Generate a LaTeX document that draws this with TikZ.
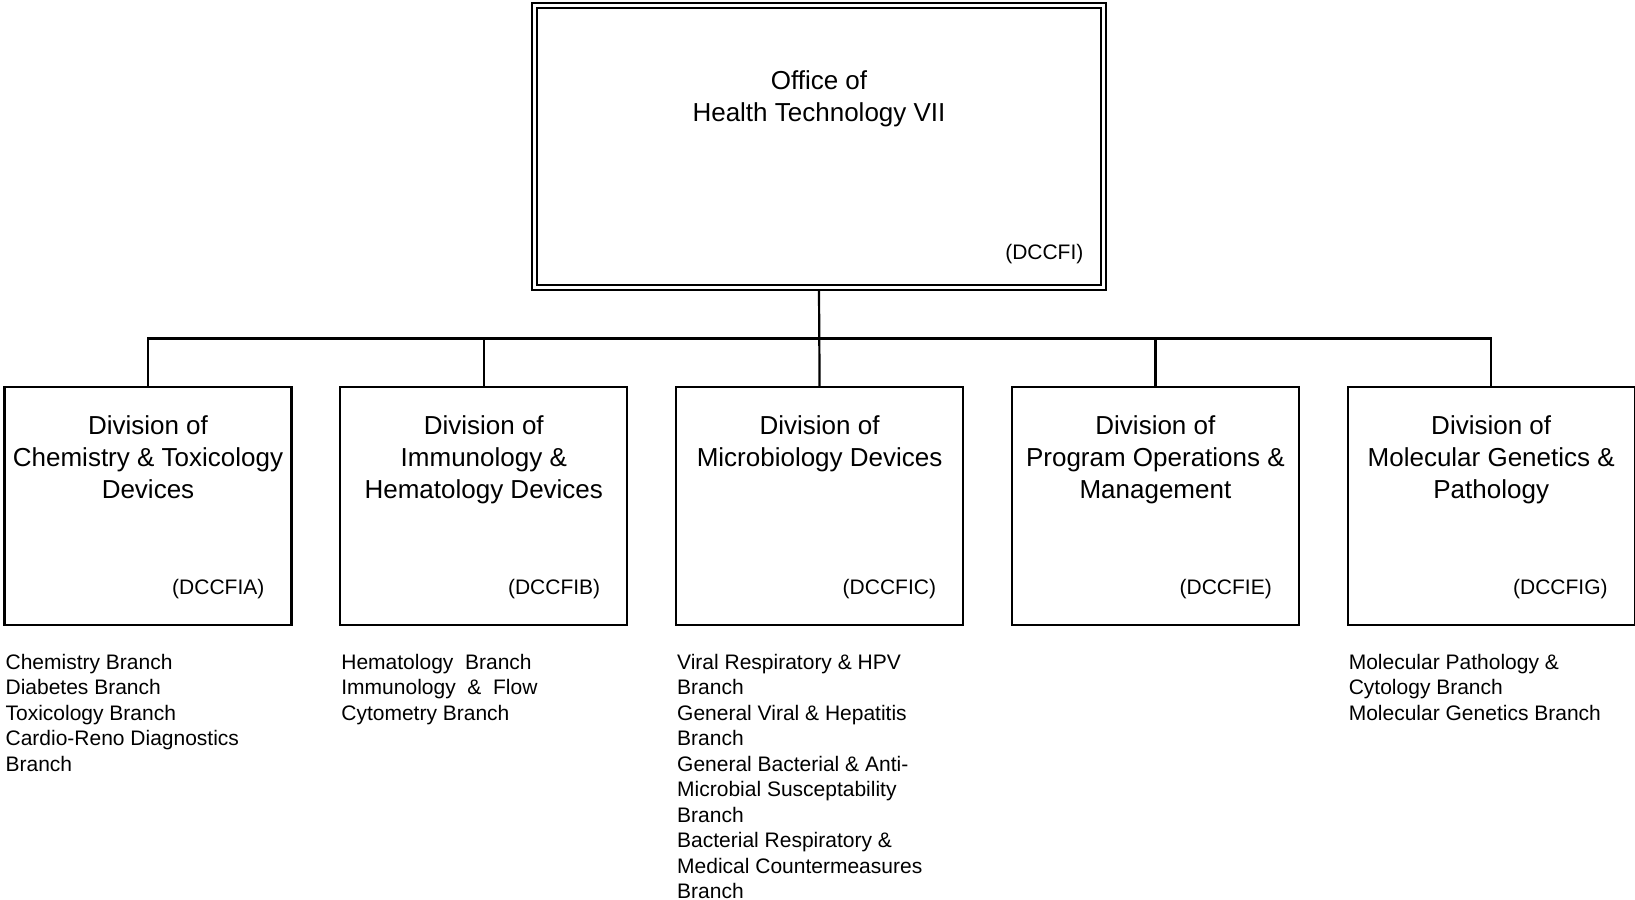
\documentclass[tikz,border=0pt]{standalone}
\usepackage{fontspec}
\setmainfont{Liberation Sans}
\usetikzlibrary{positioning}

\begin{document}
\begin{tikzpicture}[x=0.5pt, y=-0.5pt, line width=1.1pt, node distance=24.4pt,
    office/.style = {draw, double, double distance=1.5pt, line width=1pt, outer sep=1.75pt,
                     minimum width=284.5pt, minimum height=141pt, inner sep=0pt},
    division/.style = {draw, outer sep=0pt, minimum width=143.5pt, minimum height=119pt, inner sep=0pt},
    title/.style = {anchor=north, align=center, inner sep=0pt, font=\fontsize{13}{16}\selectfont},
    code/.style = {anchor=south east, inner sep=0pt, font=\fontsize{10.5}{12.75}\selectfont},
    branches/.style = {align=left, inner sep=0pt, font=\fontsize{10.5}{12.75}\selectfont}]
    \useasboundingbox (0,0) rectangle (1635,900);

    % office
    \node[office, label={[title, yshift=-34pt]north:{Office of\\Health Technology VII}},
        label={[code, xshift=-11.25pt, yshift=13.25pt]south east:(DCCFI)}] (ohtvii) at (819,146.5) {};

    % divisions
    \node[division, label={[title, yshift=-14pt]north:{Division of\\Chemistry \& Toxicology\\Devices}},
        label={[code, xshift=-13pt, yshift=12.5pt]south east:(DCCFIA)}] (dA) at (148,506) {};
    \node[division, right=of dA, label={[title, yshift=-14pt]north:{Division of\\Immunology \&\\Hematology Devices}},
        label={[code, xshift=-13pt, yshift=12.5pt]south east:(DCCFIB)}] (dB) {};
    \node[division, right=of dB, label={[title, yshift=-14pt]north:{Division of\\Microbiology Devices}},
        label={[code, xshift=-13pt, yshift=12.5pt]south east:(DCCFIC)}] (dC) {};
    \node[division, right=of dC, label={[title, yshift=-14pt]north:{Division of\\Program Operations \&\\Management}},
        label={[code, xshift=-13pt, yshift=12.5pt]south east:(DCCFIE)}] (dE) {};
    \node[division, right=of dE, label={[title, yshift=-14pt]north:{Division of\\Molecular Genetics \&\\Pathology}},
        label={[code, xshift=-13pt, yshift=12.5pt]south east:(DCCFIG)}] (dG) {};

    % branches
    \node[branches, below right=14pt and 0pt of dA.south west] (bA)
        {Chemistry Branch\\Diabetes Branch\\Toxicology Branch\\Cardio-Reno Diagnostics\\Branch};
    \node[branches, below right=14pt and 0pt of dB.south west] (bB)
        {Hematology\ \ Branch\\Immunology\ \ \&\ \ Flow\\Cytometry Branch};
    \node[branches, below right=14pt and 0pt of dC.south west] (bC)
        {Viral Respiratory \& HPV\\Branch\\General Viral \& Hepatitis\\Branch\\General Bacterial \& Anti-\\Microbial Susceptability\\Branch\\Bacterial Respiratory \&\\Medical Countermeasures\\Branch};
    \node[branches, below right=14pt and 0pt of dG.south west] (bG)
        {Molecular Pathology \&\\Cytology Branch\\Molecular Genetics Branch};

    % connectors
    \coordinate (bus) at (819,338.5);
    \draw (ohtvii.south) -- (dC.north);
    \draw (dA.north) |- (bus) -| (dG.north);
    \draw (dB.north) -- (dB.north |- bus);
    \draw (dE.north) -- (dE.north |- bus);
\end{tikzpicture}
\end{document}
